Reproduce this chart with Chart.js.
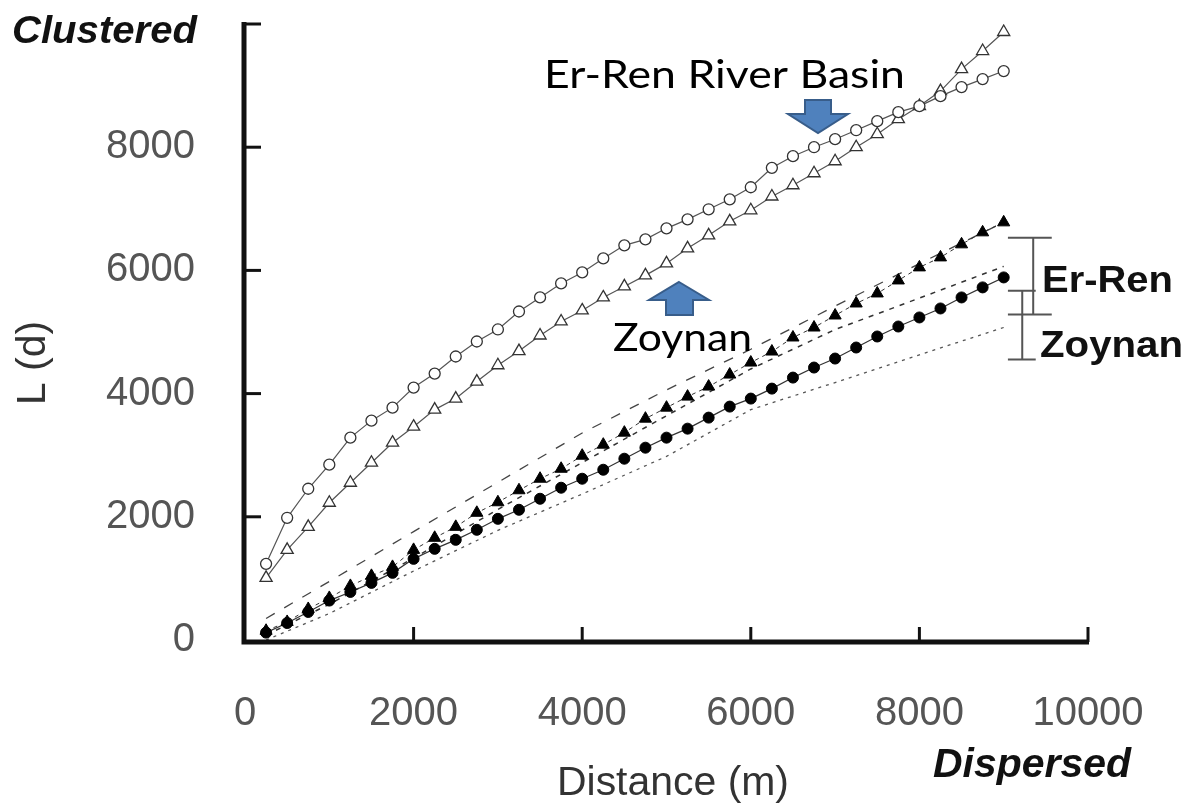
<!DOCTYPE html>
<html>
<head>
<meta charset="utf-8">
<script src="https://cdn.jsdelivr.net/npm/chart.js@4.4.1/dist/chart.umd.min.js"></script>
<style>
  html, body { margin: 0; padding: 0; background: #fff; }
</style>
</head>
<body>
<canvas id="chart" width="1197" height="809"></canvas>
<script>
// distance steps (m)
const distance = [250, 500, 750, 1000, 1250, 1500, 1750, 2000, 2250, 2500, 2750, 3000,
                  3250, 3500, 3750, 4000, 4250, 4500, 4750, 5000, 5250, 5500, 5750, 6000,
                  6250, 6500, 6750, 7000, 7250, 7500, 7750, 8000, 8250, 8500, 8750, 9000];

// observed L(d), open markers
const erRenObserved = [1236, 1984, 2455, 2846, 3285, 3561, 3772, 4098, 4325, 4602, 4846, 5041,
                       5333, 5561, 5789, 5967, 6195, 6407, 6504, 6683, 6829, 6992, 7154, 7350,
                       7665, 7854, 8000, 8130, 8276, 8423, 8569, 8667, 8829, 8976, 9106, 9236];
const zoynanObserved = [1008, 1463, 1837, 2228, 2553, 2878, 3203, 3463, 3740, 3919, 4195, 4460,
                        4690, 4943, 5171, 5350, 5561, 5740, 5919, 6114, 6358, 6569, 6797, 6976,
                        7200, 7382, 7577, 7772, 8000, 8211, 8455, 8667, 8911, 9268, 9561, 9870];

// expected L(d), filled markers
const erRenExpected = [150, 293, 504, 683, 878, 1041, 1187, 1463, 1659, 1837, 2065, 2236,
                       2431, 2618, 2780, 2992, 3171, 3366, 3593, 3772, 3951, 4114, 4309, 4504,
                       4683, 4911, 5073, 5268, 5463, 5626, 5837, 6049, 6211, 6423, 6618, 6780];
const zoynanExpected = [120, 276, 455, 640, 780, 927, 1090, 1317, 1480, 1626, 1789, 1967,
                        2114, 2293, 2472, 2618, 2764, 2943, 3122, 3285, 3431, 3610, 3789, 3919,
                        4081, 4260, 4423, 4569, 4748, 4927, 5089, 5236, 5382, 5561, 5724, 5886];

// confidence envelopes
const envDistance = [250, 1000, 2000, 3000, 4000, 5000, 6000, 7000, 8000, 9000];
const upperEnvelope = [350, 950, 1760, 2560, 3360, 4060, 4720, 5420, 6110, 6780];
const middleEnvelope = [80, 580, 1330, 2120, 2880, 3640, 4400, 5040, 5550, 6065];
const lowerEnvelope = [0, 430, 1120, 1780, 2370, 2980, 3740, 4180, 4630, 5073];

// ranges shown by the brackets on the right
const erRenRange = [5285, 6530];
const zoynanRange = [4555, 5670];

const xTicks = [0, 2000, 4000, 6000, 8000, 10000];
const yTicks = [0, 2000, 4000, 6000, 8000, 10000];

const pts = (xs, ys) => xs.map((x, i) => ({ x: x, y: ys[i] }));

function fitText(ctx, text, x, y, width, font, color) {
    ctx.save();
    ctx.font = font;
    const w = ctx.measureText(text).width;
    ctx.translate(x, y);
    ctx.scale(width / w, 1);
    ctx.fillStyle = color;
    ctx.textAlign = 'left';
    ctx.textBaseline = 'alphabetic';
    ctx.fillText(text, 0, 0);
    ctx.restore();
}

function blockArrow(ctx, poly) {
    ctx.beginPath();
    poly.forEach((p, i) => i ? ctx.lineTo(p[0], p[1]) : ctx.moveTo(p[0], p[1]));
    ctx.closePath();
    ctx.fillStyle = '#4f81bd';
    ctx.fill();
    ctx.strokeStyle = '#385d8a';
    ctx.lineWidth = 2;
    ctx.stroke();
}

const overlay = {
    id: 'overlay',
    afterDraw(chart) {
        const { ctx, scales: { x, y } } = chart;
        const px = v => x.getPixelForValue(v);
        const py = v => y.getPixelForValue(v);
        ctx.save();

        // axes with inward ticks
        const ax = px(0) - 1, ay = py(0) + 2;
        ctx.strokeStyle = '#111';
        ctx.lineWidth = 5;
        ctx.beginPath();
        ctx.moveTo(ax, py(10000) - 2);
        ctx.lineTo(ax, ay);
        ctx.lineTo(px(10000) + 1, ay);
        ctx.stroke();
        ctx.lineWidth = 3;
        yTicks.forEach(v => {
            if (v === 0) return;
            ctx.beginPath();
            ctx.moveTo(ax, py(v));
            ctx.lineTo(ax + 17, py(v));
            ctx.stroke();
        });
        xTicks.forEach(v => {
            if (v === 0) return;
            ctx.beginPath();
            ctx.moveTo(px(v), ay);
            ctx.lineTo(px(v), ay - 15);
            ctx.stroke();
        });

        // brackets on the right
        ctx.strokeStyle = '#555';
        ctx.lineWidth = 2;
        const bracket = (range, bx, c0, c1) => {
            ctx.beginPath();
            ctx.moveTo(px(bx), py(range[0]));
            ctx.lineTo(px(bx), py(range[1]));
            [range[0], range[1]].forEach(v => {
                ctx.moveTo(px(c0), py(v));
                ctx.lineTo(px(c1), py(v));
            });
            ctx.stroke();
        };
        bracket(erRenRange, 9350, 9050, 9570);
        bracket(zoynanRange, 9220, 9050, 9380);

        // corner words and axis titles
        const arial = 'Liberation Sans, Arial, sans-serif';
        fitText(ctx, 'Clustered', 12, 43, 185, 'italic bold 39px ' + arial, '#111');
        fitText(ctx, 'Dispersed', 933, 777, 198, 'italic bold 40px ' + arial, '#111');
        fitText(ctx, 'Distance (m)', 557, 795, 232, '40px ' + arial, '#333');
        ctx.save();
        ctx.translate(45, 405);
        ctx.rotate(-Math.PI / 2);
        fitText(ctx, 'L (d)', 0, 0, 84, '40px ' + arial, '#333');
        ctx.restore();

        // bracket labels
        fitText(ctx, 'Er-Ren', 1042, 292, 131, 'bold 37px ' + arial, '#111');
        fitText(ctx, 'Zoynan', 1040, 357, 143, 'bold 37px ' + arial, '#111');

        // arrow callouts
        const callout = 'Lato, Open Sans, sans-serif';
        fitText(ctx, 'Er-Ren River Basin', 544, 88, 361, '38px ' + callout, '#000');
        fitText(ctx, 'Zoynan', 613, 351, 139, '39px ' + callout, '#000');
        blockArrow(ctx, [[805, 100], [831, 100], [831, 114], [848, 114], [818, 133], [788, 114], [805, 114]]);
        blockArrow(ctx, [[679, 282], [709, 300], [693, 300], [693, 315], [666, 315], [666, 300], [649, 300]]);

        ctx.restore();
    }
};

const tickFont = { family: 'Liberation Sans, Arial, sans-serif', size: 40 };

new Chart(document.getElementById('chart'), {
    type: 'line',
    data: {
        datasets: [
            {
                label: 'Er-Ren River Basin',
                data: pts(distance, erRenObserved),
                borderColor: '#555', borderWidth: 1.2,
                pointStyle: 'circle', pointRadius: 5.5,
                pointBackgroundColor: '#fff', pointBorderColor: '#333', pointBorderWidth: 1.3
            },
            {
                label: 'Zoynan',
                data: pts(distance, zoynanObserved),
                borderColor: '#555', borderWidth: 1.2,
                pointStyle: 'triangle', pointRadius: 7,
                pointBackgroundColor: '#fff', pointBorderColor: '#333', pointBorderWidth: 1.3
            },
            {
                label: 'Er-Ren expected',
                data: pts(distance, erRenExpected),
                borderColor: '#333', borderWidth: 1, borderDash: [4, 4],
                pointStyle: 'triangle', pointRadius: 7,
                pointBackgroundColor: '#000', pointBorderColor: '#000', pointBorderWidth: 1
            },
            {
                label: 'Zoynan expected',
                data: pts(distance, zoynanExpected),
                borderColor: '#333', borderWidth: 1.2,
                pointStyle: 'circle', pointRadius: 5.5,
                pointBackgroundColor: '#000', pointBorderColor: '#000', pointBorderWidth: 1
            },
            {
                label: 'upper envelope',
                data: pts(envDistance, upperEnvelope),
                borderColor: '#444', borderWidth: 1.3, borderDash: [10, 11], pointRadius: 0
            },
            {
                label: 'middle envelope',
                data: pts(envDistance, middleEnvelope),
                borderColor: '#333', borderWidth: 1.5, borderDash: [5, 6], pointRadius: 0
            },
            {
                label: 'lower envelope',
                data: pts(envDistance, lowerEnvelope),
                borderColor: '#555', borderWidth: 1.3, borderDash: [3, 5], pointRadius: 0
            }
        ]
    },
    options: {
        responsive: false,
        animation: false,
        layout: { padding: { left: 0, right: 109, top: 24, bottom: 0 } },
        plugins: { legend: { display: false }, tooltip: { enabled: false } },
        elements: { line: { tension: 0 } },
        scales: {
            x: {
                type: 'linear', min: 0, max: 10000,
                afterBuildTicks: s => { s.ticks = xTicks.map(v => ({ value: v })); },
                ticks: { padding: 50, font: tickFont, color: '#555', maxRotation: 0, callback: v => String(v) },
                grid: { display: false, drawTicks: false },
                border: { display: false },
                afterFit: s => { s.height = 169; s.paddingLeft = 0; s.paddingRight = 0; }
            },
            y: {
                min: 0, max: 10000,
                afterBuildTicks: s => { s.ticks = yTicks.map(v => ({ value: v })); },
                ticks: { padding: 50, font: tickFont, color: '#555', callback: v => v === 10000 ? '' : String(v) },
                grid: { display: false, drawTicks: false },
                border: { display: false },
                afterFit: s => { s.width = 245; s.paddingTop = 0; s.paddingBottom = 0; }
            }
        }
    },
    plugins: [overlay]
});
</script>
</body>
</html>
